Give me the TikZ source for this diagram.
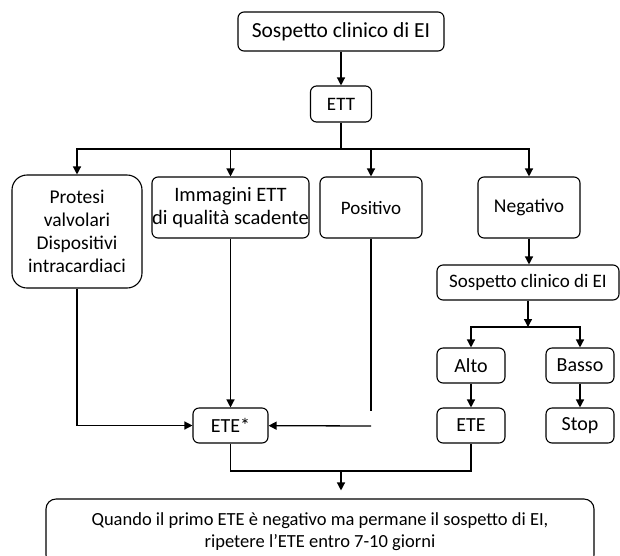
\documentclass[tikz,border=0pt]{standalone}
\usepackage{fontspec}
\setmainfont{Carlito}
\usepackage{tikz}
\usetikzlibrary{arrows.meta}

\begin{document}
\begin{tikzpicture}[x=1pt, y=-1pt, line width=1.3pt,
    box/.style={draw=black, line width=1.1pt, rounded corners=6pt, align=center,
                inner sep=0pt, font=\fontsize{20}{23}\selectfont},
    arr/.style={-{Triangle[width=8pt,length=8pt]}}]
       \useasboundingbox (0,0) rectangle (620,555);

       \node[box, font=\fontsize{21.5}{23}\selectfont, minimum width=206pt, minimum height=39pt](Sosp) at (341,31.5) {Sospetto clinico di EI};
       \node[box, font=\fontsize{19}{23}\selectfont, minimum width=61pt, minimum height=36pt](ETT) at (341,104) {ETT};
       
       \node[box, font=\fontsize{19.5}{23}\selectfont, rounded corners=15pt, minimum width=130pt, minimum height=113pt](Prot) at (77,231.5) {Protesi\\valvolari\\Dispositivi\\intracardiaci};
       \node[box, font=\fontsize{20.5}{23}\selectfont, minimum width=157pt, minimum height=61pt](Imm) at (230.5,207.5) {Immagini ETT\\di qualità scadente};
       \node[box, font=\fontsize{19}{23}\selectfont, minimum width=102pt, minimum height=61pt](Pos) at (371,207.5) {Positivo};
       \node[box, font=\fontsize{19.5}{23}\selectfont, minimum width=102pt, minimum height=61pt](Neg) at (529,207.5) {Negativo};
       
       \node[box, font=\fontsize{19}{23}\selectfont, minimum width=182pt, minimum height=35pt](Sosp2) at (528,282.5) {Sospetto clinico di EI};
       \node[box, minimum width=68pt, minimum height=35pt](Alto) at (471,365.5) {Alto};
       \node[box, minimum width=68pt, minimum height=35pt](Basso) at (580,365.5) {Basso};
       
       \node[box, minimum width=75pt, minimum height=35pt](ETEs) at (230.5,425.5) {ETE*};
       \node[box, minimum width=68pt, minimum height=35pt](ETE) at (471,425.5) {ETE};
       \node[box, minimum width=68pt, minimum height=35pt](Stop) at (580,425.5) {Stop};
       
       \node[box, font=\fontsize{18.5}{22}\selectfont, rounded corners=10pt, minimum width=548pt, minimum height=66pt](Fin) at (320,532) {Quando il primo ETE è negativo ma permane il sospetto di EI,\\ripetere l’ETE entro 7-10 giorni};

       \coordinate(S1) at (341,149);
       \coordinate(S2) at (528,327);
       \coordinate(S3) at (341,471);
       \coordinate(PE) at (371,411);
       \coordinate(PI) at (371,426);

       \draw[arr] (Sosp) -- (ETT);
       \draw (ETT) -- (S1);
       \foreach \n in {Prot,Imm,Pos,Neg}
              \draw[arr] (S1) -| (\n);
       
       \draw[arr] (Neg) -- (Neg |- Sosp2.north);
       \draw[arr] (Sosp2) -- (S2);
       \draw[arr] (S2) -| (Alto);
       \draw[arr] (S2) -| (Basso);
       \draw[arr] (Alto) -- (ETE);
       \draw[arr] (Basso) -- (Stop);
       
       \draw[arr] (Prot) |- (ETEs);
       \draw[arr] (Imm) -- (ETEs);
       \draw (Pos) -- (PE);
       \draw[arr] (PI) -- (ETEs);
       
       \draw (ETEs) |- (S3) -| (ETE);
       \draw[arr, shorten >=8pt] (S3) -- (S3 |- Fin.north);
\end{tikzpicture}
\end{document}
